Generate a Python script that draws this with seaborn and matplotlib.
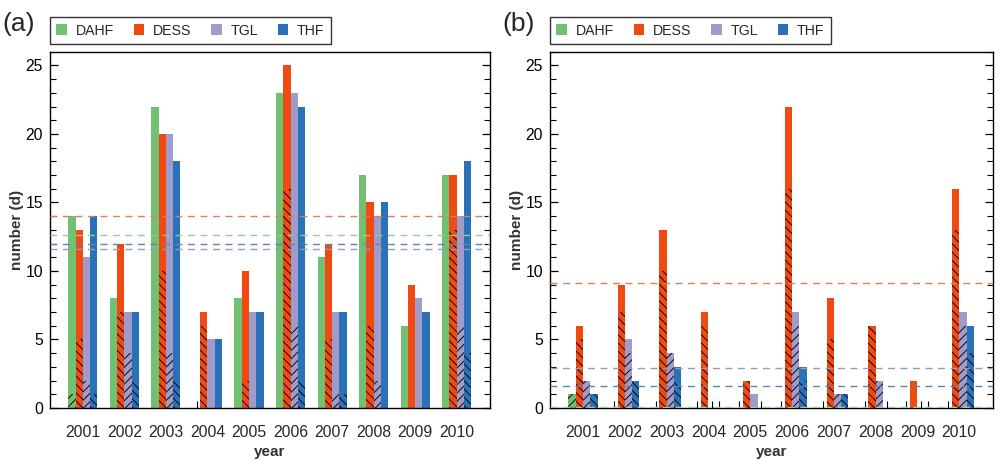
import numpy as np
import pandas as pd
import matplotlib
matplotlib.use("Agg")
import matplotlib.pyplot as plt
from matplotlib.patches import Patch
import seaborn as sns

# ---------------- data ----------------
years = ['2001', '2002', '2003', '2004', '2005', '2006', '2007', '2008', '2009', '2010']
series = ['DAHF', 'DESS', 'TGL', 'THF']

a_dahf = [14, 8, 22, 0, 8, 23, 11, 17, 6, 17]
a_dess = [13, 12, 20, 7, 10, 25, 12, 15, 9, 17]
a_tgl = [11, 7, 20, 5, 7, 23, 7, 14, 8, 14]
a_thf = [14, 7, 18, 5, 7, 22, 7, 15, 7, 18]

b_dahf = [1, 0, 0, 0, 0, 0, 0, 0, 0, 0]
b_dess = [6, 9, 13, 7, 2, 22, 8, 6, 2, 16]
b_tgl = [2, 5, 4, 0, 1, 7, 1, 2, 0, 7]
b_thf = [1, 2, 3, 0, 0, 3, 1, 0, 0, 6]

# hatched (overlapping) portion, same in both panels
h_dahf = [1, 0, 0, 0, 0, 0, 0, 0, 0, 0]
h_dess = [5, 7, 10, 6, 2, 16, 5, 6, 0, 13]
h_tgl = [2, 4, 4, 0, 0, 6, 1, 2, 0, 6]
h_thf = [1, 2, 2, 0, 0, 2, 1, 0, 0, 4]

colors = {'DAHF': '#72c072', 'DESS': '#f04a12', 'TGL': '#9f9bcb', 'THF': '#2a72b8'}
line_colors = {'DAHF': '#8fcf8f', 'DESS': '#d9825a', 'TGL': '#9a9ab5', 'THF': '#5a86b0'}
hatches = {'DAHF': '////', 'DESS': '\\\\\\\\', 'TGL': '////', 'THF': '\\\\\\\\'}


def long_df(d, t, g, f):
    rows = []
    for name, vals in zip(series, [d, t, g, f]):
        for y, v in zip(years, vals):
            rows.append({'year': y, 'series': name, 'value': v})
    return pd.DataFrame(rows)


sns.set_theme(style='ticks')
plt.rcParams['font.family'] = ['Liberation Sans', 'DejaVu Sans']
plt.rcParams['hatch.linewidth'] = 0.65
plt.rcParams['axes.linewidth'] = 1.0

fig = plt.figure(figsize=(10, 4.71), dpi=100)
ax_a = fig.add_axes([0.050, 0.1338, 0.440, 0.7564])
ax_b = fig.add_axes([0.550, 0.1338, 0.4427, 0.7564])

panels = [
    (ax_a, long_df(a_dahf, a_dess, a_tgl, a_thf), '(a)', 0.002),
    (ax_b, long_df(b_dahf, b_dess, b_tgl, b_thf), '(b)', 0.502),
]
hdf = long_df(h_dahf, h_dess, h_tgl, h_thf)

for ax, df, lab, lx in panels:
    sns.barplot(data=df, x='year', y='value', hue='series', hue_order=series,
                palette=colors, width=0.7, saturation=1, linewidth=0,
                errorbar=None, legend=False, ax=ax, zorder=1)
    n1 = len(ax.patches)
    sns.barplot(data=hdf, x='year', y='value', hue='series', hue_order=series,
                palette=colors, width=0.7, saturation=1, linewidth=0,
                errorbar=None, legend=False, ax=ax, zorder=1.1)
    hp = ax.patches[n1:]
    for i, p in enumerate(hp):
        s = series[i // len(years)]
        p.set_hatch(hatches[s])
        p.set_edgecolor('black')
        p.set_linewidth(0)

    # mean lines
    for s in series:
        m = df.loc[df['series'] == s, 'value'].mean()
        ax.axhline(m, color=line_colors[s], lw=1.0, ls=(0, (5, 4)), zorder=3)

    centers = sorted(p.get_x() + p.get_width() / 2 for p in ax.patches[:n1])
    ax.set_xlim(-0.79, 9.80)
    ax.set_ylim(0, 26)
    ax.set_yticks([0, 5, 10, 15, 20, 25])
    ax.set_yticks(np.arange(0, 27, 1), minor=True)
    ax.set_xticks(centers, minor=True)
    ax.tick_params(axis='y', which='both', direction='in', left=True, right=True,
                   labelsize=11.3, colors='black', pad=5)
    ax.tick_params(axis='y', which='major', length=6, width=0.9)
    ax.tick_params(axis='y', which='minor', length=4, width=0.8)
    ax.tick_params(axis='x', which='major', length=0, labelsize=11.3, pad=12)
    ax.tick_params(axis='x', which='minor', direction='in', length=5, width=0.8,
                   color='black', bottom=True, top=False)
    for sp in ax.spines.values():
        sp.set_visible(True)
        sp.set_color('black')
    ax.set_xlabel('year', fontsize=11, fontweight='bold', color='#333333', labelpad=4)
    ax.set_ylabel('number (d)', fontsize=11, fontweight='bold', color='#333333', labelpad=1)

    handles = [Patch(facecolor=colors[s], edgecolor='none') for s in series]
    leg = ax.legend(handles, series, loc='lower left', bbox_to_anchor=(0.0, 1.022),
                    ncol=4, frameon=True, fancybox=False, edgecolor='black',
                    fontsize=10.2, handlelength=0.75, handleheight=0.75,
                    handletextpad=0.6, columnspacing=1.4, borderpad=0.45,
                    borderaxespad=0.0)
    leg.get_frame().set_linewidth(1.0)

    fig.text(lx, 0.935, lab, fontsize=19, va='baseline', ha='left')

fig.savefig('out.png', dpi=100)
